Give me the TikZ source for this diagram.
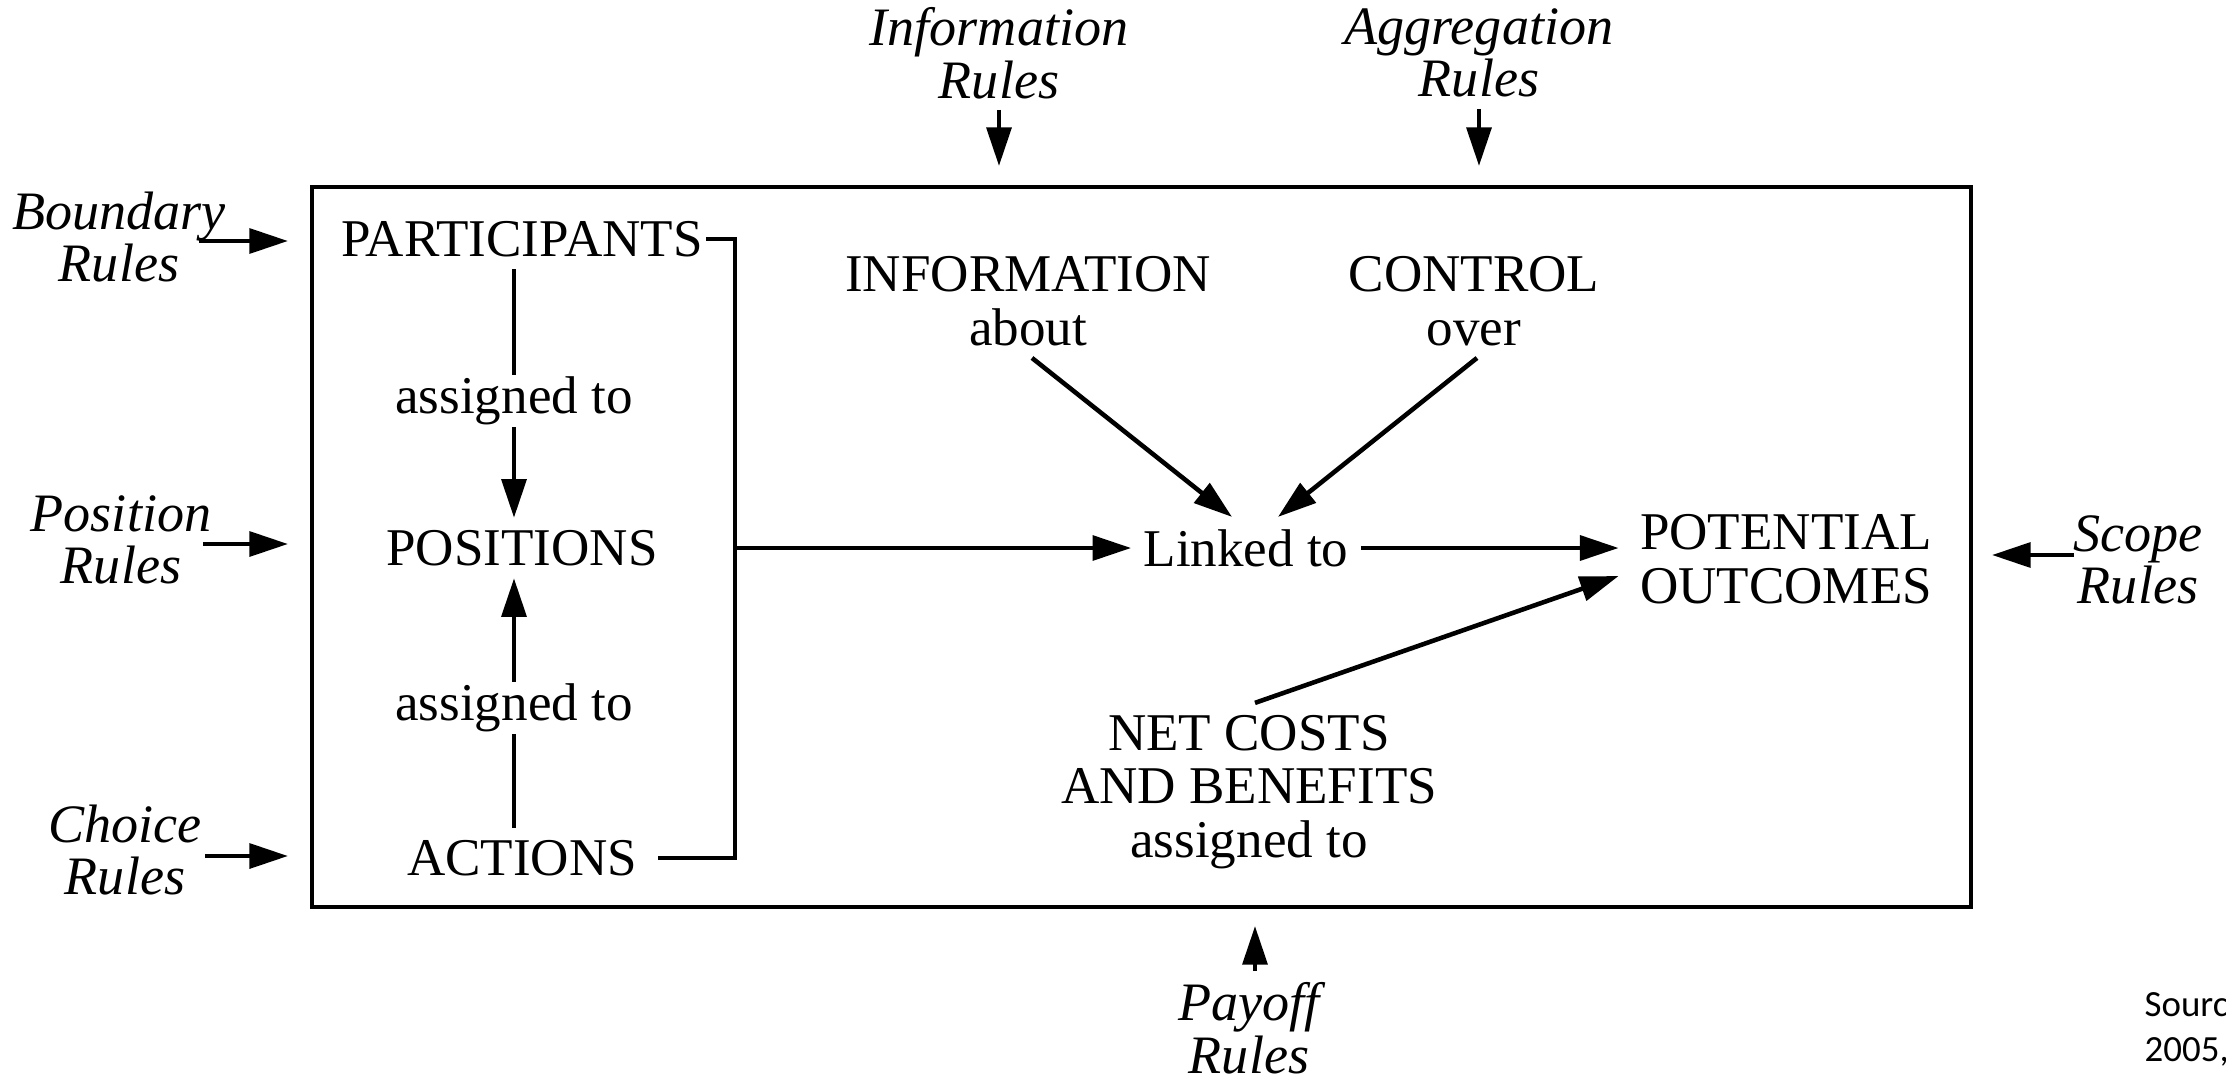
\documentclass[tikz,border=0pt]{standalone}
\usepackage{fontspec}
\setmainfont{Liberation Serif}
\newfontfamily\srcfont{Carlito}
\usepackage{tikz}
\usetikzlibrary{arrows.meta,calc}

\begin{document}
\begin{tikzpicture}[x=0.1mm,y=-0.1mm,
  lbl/.style={font=\fontsize{15.1}{15.2}\selectfont,align=center},
  rule/.style={font=\fontsize{15.4}{15}\selectfont\itshape,align=center,inner sep=3pt},
  arr/.style={-{Triangle[length=11pt,width=7pt]},line width=1.3pt},
  gap/.style={lbl,fill=white,inner xsep=2pt,inner ysep=0.5pt},
  src/.style={font=\srcfont\fontsize{10.5}{13}\selectfont,anchor=west,inner sep=0pt}]
\useasboundingbox (0,0) rectangle (2226,1081);
% action situation frame
\draw[line width=1.2pt] (312,187) rectangle (1971,907);
% left column
\node[lbl] (part) at (522,239) {PARTICIPANTS};
\node[lbl] (pos) at (522,548) {POSITIONS};
\node[lbl] (act) at (522,858) {ACTIONS};
\draw[arr] ($(part.south)+(-8,0)$) -- node[gap,pos=0.53]{assigned to} ($(pos.north)+(-8,0)$);
\draw[arr] ($(act.north)+(-8,0)$) -- node[gap,pos=0.48]{assigned to} ($(pos.south)+(-8,0)$);
\coordinate (brk) at (735,548);
\draw[line width=1.3pt] ($(part.east)+(-9,0)$) -| (brk) |- ($(act.east)+(9,0)$);
% centre
\node[lbl] (link) at (1246,548) {Linked to};
\node[lbl] (info) at (1028,301) {INFORMATION\\about};
\node[lbl] (ctrl) at (1474,301) {CONTROL\\over};
\node[lbl] (pot) at (1786,559) {POTENTIAL\\OUTCOMES};
\node[lbl] (net) at (1249,792) {NET COSTS\\AND BENEFITS\\assigned to};
\draw[arr] (brk) -- (link);
\draw[arr] ($(info.south)+(4,0)$) -- ($(link.north)+(-14,0)$);
\draw[arr] ($(ctrl.south)+(3,0)$) -- ($(link.north)+(32,0)$);
\draw[arr] (link.east) -- ($(link.east -| pot.west)+(-9,0)$);
\draw[arr] ($(net.north)+(6,0)$) -- ($(pot.west)+(-9,17)$);
% rules around the frame
\node[rule] (ir) at (999,53) {Information\\Rules};
\node[rule] (ar) at (1479,53) {Aggregation\\Rules};
\node[rule] (br) at (119,237) {Boundary\\Rules};
\node[rule] (pr) at (121,540) {Position\\Rules};
\node[rule] (cr) at (125,850) {Choice\\Rules};
\node[rule] (sr) at (2138,560) {Scope\\Rules};
\node[rule] (yr) at (1249,1028) {Payoff\\Rules};
\coordinate (irE) at (999,166);
\coordinate (arE) at (1479,166);
\coordinate (brE) at (288,241);
\coordinate (prE) at (288,544);
\coordinate (crE) at (288,856);
\coordinate (srE) at (1992,555);
\coordinate (yrE) at (1255,926);
\draw[arr] (ir.south) -- (irE);
\draw[arr] (ar.south) -- (arE);
\draw[arr] ($(br.center)+(80,4)$) -- (brE);
\draw[arr] ($(pr.center)+(82,4)$) -- (prE);
\draw[arr] ($(cr.center)+(80,6)$) -- (crE);
\draw[arr] ($(sr.center)+(-64,-5)$) -- (srE);
\draw[arr] ($(yr.north)+(6,0)$) -- (yrE);
% cut-off source note
\node[src] (srcA) at (2144,1005) {Sourc};
\node[src] (srcB) at (2144,1052) {2005,};
\end{tikzpicture}
\end{document}
